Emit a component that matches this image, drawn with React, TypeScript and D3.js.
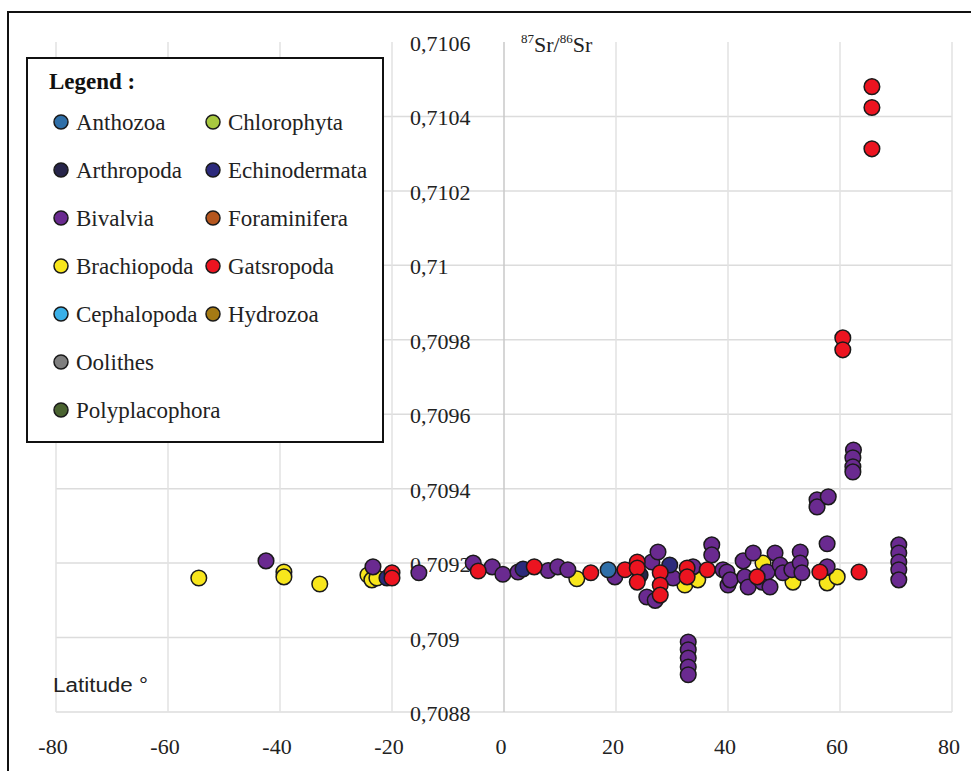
import React from "react";
import * as d3 from "d3";

// ---- Data (latitude °, 87Sr/86Sr) ----
const categories = [
  "Anthozoa", "Arthropoda", "Bivalvia", "Brachiopoda", "Cephalopoda", "Oolithes", "Polyplacophora",
  "Chlorophyta", "Echinodermata", "Foraminifera", "Gatsropoda", "Hydrozoa",
];

const brachiopoda: [number, number][] = [
  [-54.5, 0.70916], [-39.3, 0.709176], [-39.3, 0.709163], [-32.9, 0.709144],
  [-24.3, 0.709168], [-23.6, 0.709155], [-22.7, 0.70916], [13.0, 0.709158],
  [32.3, 0.709141], [34.6, 0.709155], [46.25, 0.7092], [51.6, 0.709149],
  [57.7, 0.709147], [59.5, 0.709163],
];

const bivalvia: [number, number][] = [
  [-42.5, 0.709206], [-23.4, 0.70919], [-15.2, 0.709174], [-5.5, 0.7092], [-2.1, 0.70919],
  [-0.2, 0.70917], [2.5, 0.709176], [7.9, 0.70918], [9.6, 0.70919], [11.4, 0.709182],
  [19.8, 0.709163], [26.4, 0.709203], [27.5, 0.70923], [25.5, 0.709109], [27.0, 0.7091],
  [30.2, 0.70916], [33.75, 0.70919], [37.1, 0.709249], [37.1, 0.709222], [39.1, 0.709182],
  [40.0, 0.709141], [39.8, 0.709176], [40.4, 0.709155], [42.7, 0.709206], [44.5, 0.709227],
  [43.0, 0.709163], [43.6, 0.709136], [46.1, 0.709149], [47.0, 0.709176], [47.5, 0.709136],
  [48.4, 0.709227], [49.3, 0.709195], [49.8, 0.709174], [51.4, 0.709182], [52.9, 0.70923],
  [52.9, 0.7092], [53.2, 0.709174], [57.7, 0.70919], [57.7, 0.709252], [55.9, 0.70937],
  [55.9, 0.709351], [57.9, 0.709378], [62.4, 0.709504], [62.3, 0.709483], [62.3, 0.709459],
  [62.3, 0.709445], [70.5, 0.709249], [70.5, 0.709227], [70.5, 0.709203], [70.5, 0.709182],
  [70.5, 0.709155], [32.9, 0.708988], [32.9, 0.708967], [32.9, 0.708945], [32.9, 0.708921],
  [32.9, 0.7089],
];

const echinodermata: [number, number][] = [
  [-20.9, 0.70916], [3.4, 0.709184], [29.6, 0.709195],
];

const arthropoda: [number, number][] = [
  [24.3, 0.709168],
];

const gatsropoda: [number, number][] = [
  [-20.0, 0.709174], [-20.0, 0.70916], [-4.6, 0.709179], [5.4, 0.70919], [15.5, 0.709174],
  [21.6, 0.709182], [23.8, 0.709203], [23.8, 0.709187], [23.8, 0.709149], [27.9, 0.709174],
  [27.9, 0.709141], [27.9, 0.709114], [32.7, 0.709187], [32.7, 0.709163], [36.3, 0.709182],
  [45.2, 0.709163], [56.4, 0.709176], [63.4, 0.709176], [60.5, 0.709805], [60.5, 0.709773],
  [65.7, 0.71048], [65.7, 0.710424], [65.7, 0.710313],
];

const anthozoa: [number, number][] = [
  [18.6, 0.709182],
];

const xTicks = [-80, -60, -40, -20, 0, 20, 40, 60, 80];
const yTicks = [0.7088, 0.709, 0.7092, 0.7094, 0.7096, 0.7098, 0.71, 0.7102, 0.7104, 0.7106];
const yTickLabels = ["0,7088", "0,709", "0,7092", "0,7094", "0,7096", "0,7098", "0,71", "0,7102", "0,7104", "0,7106"];

const colors: Record<string, string> = {
  Anthozoa: "#2f6fa8",
  Arthropoda: "#27254a",
  Bivalvia: "#6a2a90",
  Brachiopoda: "#f8e61c",
  Cephalopoda: "#3ab0e8",
  Oolithes: "#7f7f7f",
  Polyplacophora: "#4a6330",
  Chlorophyta: "#a8c840",
  Echinodermata: "#2c2a7c",
  Foraminifera: "#b5561e",
  Gatsropoda: "#ec1420",
  Hydrozoa: "#a57a14",
};

const serif = "'Liberation Serif', 'Times New Roman', serif";

export default function App() {
  const x = d3.scaleLinear().domain([-80, 80]).range([56, 952]);
  const y = d3.scaleLinear().domain([0.7088, 0.7106]).range([712, 42]);

  const series: { name: string; data: [number, number][] }[] = [
    { name: "Brachiopoda", data: brachiopoda },
    { name: "Bivalvia", data: bivalvia },
    { name: "Echinodermata", data: echinodermata },
    { name: "Arthropoda", data: arthropoda },
    { name: "Anthozoa", data: anthozoa },
    { name: "Gatsropoda", data: gatsropoda },
  ];

  const col1 = categories.slice(0, 7);
  const col2 = categories.slice(7);

  return (
    <svg
      width={971}
      height={771}
      style={{ position: "absolute", left: 0, top: 0, background: "#fff" }}
    >
      <rect x={0} y={0} width={971} height={771} fill="#fff" />
      {/* outer frame */}
      <rect x={8} y={12} width={975} height={775} fill="none" stroke="#111" strokeWidth={2} />

      {/* gridlines */}
      {yTicks.slice(0, -1).map((t) => (
        <line key={"h" + t} x1={x(-80)} x2={x(80)} y1={y(t)} y2={y(t)} stroke="#dcdcdc" strokeWidth={1.5} />
      ))}
      {xTicks.filter((t) => t !== 0).map((t) => (
        <line key={"v" + t} x1={x(t)} x2={x(t)} y1={y(0.7106)} y2={y(0.7088)} stroke="#e2e2e2" strokeWidth={1.5} />
      ))}
      {/* y axis at 0 */}
      <line x1={x(0)} x2={x(0)} y1={y(0.7106)} y2={y(0.7088)} stroke="#c8c8c8" strokeWidth={1.5} />

      {/* y tick labels */}
      {yTicks.map((t, i) => (
        <text key={"yl" + t} x={410} y={y(t) + 9} fontFamily={serif} fontSize={22} fill="#222">
          {yTickLabels[i]}
        </text>
      ))}
      {/* x tick labels */}
      {xTicks.map((t) => (
        <text key={"xl" + t} x={x(t) - 3} y={754} textAnchor="middle" fontFamily={serif} fontSize={22} fill="#222">
          {t}
        </text>
      ))}

      {/* axis titles */}
      <text x={521} y={52} fontFamily={serif} fontSize={22} fill="#222">
        <tspan fontSize={13} dy={-9}>87</tspan>
        <tspan dy={9}>Sr/</tspan>
        <tspan fontSize={13} dy={-9}>86</tspan>
        <tspan dy={9}>Sr</tspan>
      </text>
      <text
        x={53}
        y={692}
        fontFamily="'Liberation Sans Narrow', 'Liberation Sans', Arial, sans-serif"
        fontSize={20}
        textLength={95}
        lengthAdjust="spacingAndGlyphs"
        fill="#222"
      >
        Latitude °
      </text>

      {/* points */}
      {series.map((s) => (
        <g key={s.name}>
          {s.data.map((d, i) => (
            <circle
              key={i}
              cx={x(d[0])}
              cy={y(d[1])}
              r={7.8}
              fill={colors[s.name]}
              stroke="#1a1a1a"
              strokeWidth={1.5}
            />
          ))}
        </g>
      ))}

      {/* legend */}
      <rect x={27} y={58} width={356} height={384} fill="#fff" stroke="#111" strokeWidth={2} />
      <text x={49} y={89} fontFamily={serif} fontSize={23} fontWeight="bold" fill="#111">
        Legend :
      </text>
      {col1.map((c, i) => (
        <g key={c}>
          <circle cx={61} cy={122 + i * 48} r={7} fill={colors[c]} stroke="#1a1a1a" strokeWidth={1.5} />
          <text x={76} y={130 + i * 48} fontFamily={serif} fontSize={23} fill="#222">{c}</text>
        </g>
      ))}
      {col2.map((c, i) => (
        <g key={c}>
          <circle cx={213} cy={122 + i * 48} r={7} fill={colors[c]} stroke="#1a1a1a" strokeWidth={1.5} />
          <text x={228} y={130 + i * 48} fontFamily={serif} fontSize={23} fill="#222">{c}</text>
        </g>
      ))}
    </svg>
  );
}
